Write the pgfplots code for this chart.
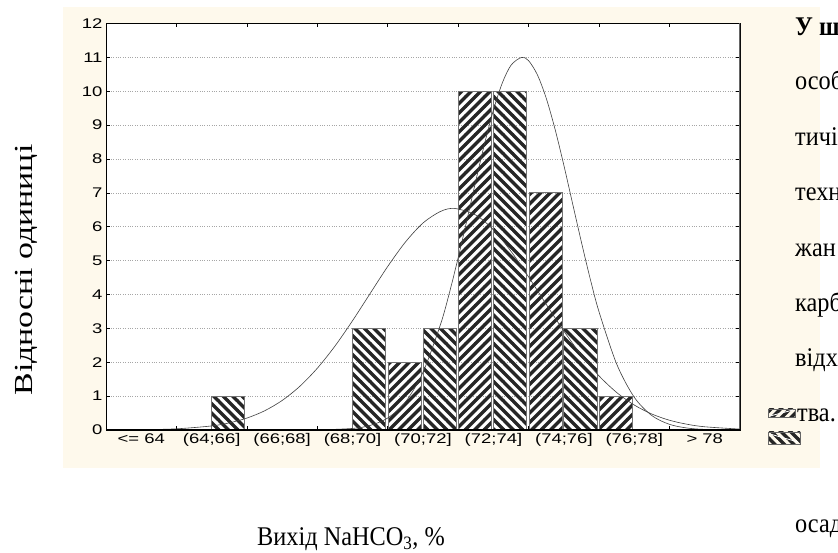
\documentclass[border=0pt]{standalone}
\usepackage{fontspec}
\setmainfont{Liberation Serif}
\newfontfamily\arialf{Liberation Sans}
\usepackage{graphicx}
\usepackage{pgfplots}
\pgfplotsset{compat=1.18}
\usetikzlibrary{patterns}
\definecolor{beige}{HTML}{FEF9EC}
\pgfdeclarepatternformonly{stripeNE}{\pgfqpoint{-1pt}{-1pt}}{\pgfqpoint{10.5pt}{10.5pt}}{\pgfqpoint{9.5pt}{9.5pt}}{%
  \pgfsetlinewidth{3.3pt}%
  \pgfpathmoveto{\pgfqpoint{-1pt}{-1pt}}%
  \pgfpathlineto{\pgfqpoint{10.5pt}{10.5pt}}%
  \pgfusepath{stroke}}
\pgfdeclarepatternformonly{stripeNW}{\pgfqpoint{-1pt}{-1pt}}{\pgfqpoint{10.5pt}{10.5pt}}{\pgfqpoint{9.5pt}{9.5pt}}{%
  \pgfsetlinewidth{3.3pt}%
  \pgfpathmoveto{\pgfqpoint{-1pt}{10.5pt}}%
  \pgfpathlineto{\pgfqpoint{10.5pt}{-1pt}}%
  \pgfusepath{stroke}}
\newcommand{\sx}[1]{\scalebox{1.32}[1]{#1}}
\newcommand{\pg}[1]{\scalebox{0.9}[1]{\fontsize{27}{31}\selectfont #1}}
\begin{document}
\begin{tikzpicture}
\useasboundingbox (0pt,0pt) rectangle (838pt,553pt);
\fill[beige] (63pt,85pt) rectangle (820pt,546pt);
\begin{axis}[
  at={(106pt,123pt)}, anchor=south west,
  scale only axis, width=634pt, height=406.5pt,
  xmin=62, xmax=80, ymin=0, ymax=12,
  axis background/.style={fill=white},
  axis line style={black, line width=0.8pt},
  xtick={64,66,...,78}, xticklabels={},
  extra x ticks={63,65,...,79},
  extra x tick labels={\sx{<= 64},\sx{(64;66]},\sx{(66;68]},\sx{(68;70]},\sx{(70;72]},\sx{(72;74]},\sx{(74;76]},\sx{(76;78]},\sx{> 78}},
  extra x tick style={major tick length=0pt},
  ytick={0,1,...,12},
  yticklabels={\sx{0},\sx{1},\sx{2},\sx{3},\sx{4},\sx{5},\sx{6},\sx{7},\sx{8},\sx{9},\sx{10},\sx{11},\sx{12}},
  major tick length=4pt,
  tick style={black, line width=0.6pt},
  tick label style={font=\arialf\fontsize{14}{16}\selectfont},
  ymajorgrids, major grid style={dotted, black!35, line width=0.5pt},
]
\addplot[ybar, bar width=0.94, bar shift=0pt, draw=black!55, line width=1pt, pattern=stripeNE, pattern color=black!85]
  coordinates {(70.48,2) (72.48,10) (74.48,7) (76.48,1)};
\addplot[ybar, bar width=0.94, bar shift=0pt, draw=black!55, line width=1pt, pattern=stripeNW, pattern color=black!85]
  coordinates {(65.47,1) (69.47,3) (71.47,3) (73.47,10) (75.47,3)};
% fitted normal curve, narrow series
\addplot[smooth, black!75, line width=0.6pt] coordinates {
 (62,0) (66,0) (67,0.0002) (68,0.004) (69,0.046) (69.5,0.135) (70,0.355) (70.5,0.825)
 (71,1.705) (71.5,3.126) (71.75,4.05) (72,5.093) (72.25,6.21) (72.5,7.357) (72.75,8.46)
 (73,9.447) (73.25,10.24) (73.5,10.77) (73.8,11.0) (74,10.90) (74.25,10.48) (74.5,9.79)
 (74.75,8.876) (75,7.811) (75.25,6.67) (75.5,5.535) (75.75,4.45) (76,3.481) (76.5,1.944)
 (77,0.963) (77.5,0.424) (78,0.166) (78.5,0.058) (79,0.018) (80,0.0004)};
% fitted normal curve, wide series
\addplot[smooth, black!75, line width=0.6pt] coordinates {
 (62,0.0017) (63,0.0084) (64,0.0347) (65,0.120) (65.5,0.210) (66,0.352) (66.5,0.565)
 (67,0.871) (67.5,1.287) (68,1.824) (68.5,2.477) (69,3.227) (69.5,4.031) (70,4.830)
 (70.5,5.547) (71,6.110) (71.5,6.453) (71.9,6.54) (72.5,6.345) (73,5.908) (73.5,5.274)
 (74,4.515) (74.5,3.707) (75,2.919) (75.5,2.203) (76,1.594) (76.5,1.106) (77,0.736)
 (77.5,0.470) (78,0.287) (78.5,0.169) (79,0.0948) (80,0.0264)};
\draw[black!60, line width=2.4pt] (rel axis cs:1,0) -- (rel axis cs:1,1);
\draw[black, line width=1.6pt] (rel axis cs:0,0) -- (rel axis cs:1,0);
\end{axis}
% axis titles
\node[rotate=90, anchor=base, inner sep=0pt] at (32pt,283pt) {\fontsize{26}{30}\selectfont\scalebox{1.3}[1]{Відносні одиниці}};
\node[anchor=base, inner sep=0pt] at (351pt,7pt) {\pg{Вихід NaHCO\textsubscript{3}, \%}};
% surrounding page text
\node[anchor=base west, inner sep=0pt] at (795pt,517pt) {\pg{\bfseries У ш}};
\node[anchor=base west, inner sep=0pt] at (795pt,463pt) {\pg{особ}};
\node[anchor=base west, inner sep=0pt] at (795pt,407pt) {\pg{тичі}};
\node[anchor=base west, inner sep=0pt] at (795pt,352pt) {\pg{техн}};
\node[anchor=base west, inner sep=0pt] at (795pt,296pt) {\pg{жан}};
\node[anchor=base west, inner sep=0pt] at (795pt,241pt) {\pg{карб}};
\node[anchor=base west, inner sep=0pt] at (795pt,186pt) {\pg{відх}};
\node[anchor=base west, inner sep=0pt] at (797pt,131pt) {\pg{тва.}};
\node[anchor=base west, inner sep=0pt] at (795pt,20pt) {\pg{осад}};
% legend swatches
\draw[black!60, line width=0.8pt, pattern=stripeNE, pattern color=black!85] (768pt,136pt) rectangle (795pt,144pt);
\draw[white, line width=0.8pt] (770pt,137pt) -- (793pt,143pt);
\draw[black!60, line width=0.8pt, pattern=stripeNW, pattern color=black!85] (768pt,109pt) rectangle (800pt,121pt);
\draw[white, line width=0.8pt] (770pt,119pt) -- (798pt,111pt);
\end{tikzpicture}
\end{document}
